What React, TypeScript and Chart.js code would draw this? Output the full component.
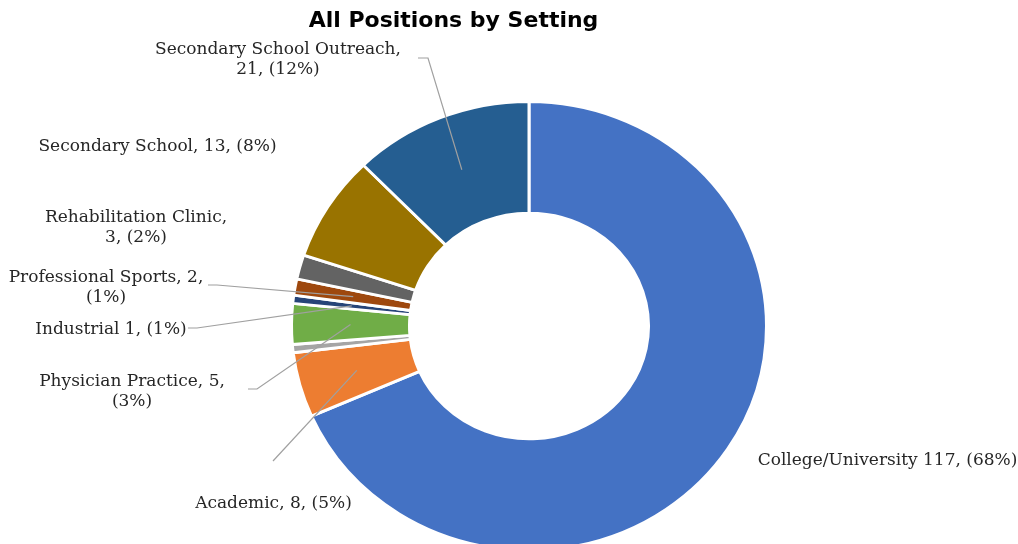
import React, { useEffect, useRef } from 'react';
import { Chart, registerables } from 'chart.js';

Chart.register(...registerables);

// ---- Data ----
const categories = [
  'College/University',
  'Academic',
  'Other',
  'Physician Practice',
  'Industrial',
  'Professional Sports',
  'Rehabilitation Clinic',
  'Secondary School',
  'Secondary School Outreach',
];
const values = [117, 8, 1, 5, 1, 2, 3, 13, 21];
const colors = ['#4472C4', '#ED7D31', '#A5A5A5', '#70AD47', '#264478', '#9E480E', '#636363', '#997300', '#255E91'];
const labelTexts: (string[] | null)[] = [
  ['College/University 117, (68%)'],
  ['Academic, 8, (5%)'],
  null,
  ['Physician Practice, 5,', '(3%)'],
  ['Industrial 1, (1%)'],
  ['Professional Sports, 2,', '(1%)'],
  ['Rehabilitation Clinic,', '3, (2%)'],
  ['Secondary School, 13, (8%)'],
  ['Secondary School Outreach,', '21, (12%)'],
];
const title = 'All Positions by Setting';

// ---- Layout (positions only) ----
const W = 1018;
const H = 600;
const K = 0.945; // vertical squash of the doughnut
const labelLayout: ({ x: number; y: number; lead?: number[][] } | null)[] = [
  { x: 887.5, y: 465 },
  { x: 273.5, y: 508, lead: [[273, 461]] },
  null,
  { x: 132, y: 386, lead: [[248, 389], [257, 389]] },
  { x: 111, y: 334, lead: [[188, 328], [197, 328]] },
  { x: 106, y: 282, lead: [[208, 285], [217, 285]] },
  { x: 136, y: 222 },
  { x: 157.5, y: 151 },
  { x: 278, y: 54, lead: [[418, 58], [428, 58]] },
];
const LABEL_FONT = '17px "DejaVu Serif"';
const LINE_H = 19.5;

const ellipsePlugin = {
  id: 'ellipse',
  beforeDatasetsDraw(chart: any) {
    const arc = chart.getDatasetMeta(0).data[0];
    const ctx = chart.ctx;
    ctx.save();
    ctx.translate(arc.x, arc.y);
    ctx.scale(1, K);
    ctx.translate(-arc.x, -arc.y);
  },
  afterDatasetsDraw(chart: any) {
    chart.ctx.restore();
  },
};

const labelsPlugin = {
  id: 'labelsAndTitle',
  afterDraw(chart: any) {
    const ctx = chart.ctx;
    const arcs = chart.getDatasetMeta(0).data;
    ctx.save();
    // title
    ctx.fillStyle = '#000000';
    ctx.font = 'bold 22px "DejaVu Sans"';
    ctx.textAlign = 'center';
    ctx.textBaseline = 'alphabetic';
    ctx.fillText(title, 453.5, 27);

    // leader lines
    ctx.strokeStyle = '#A0A0A0';
    ctx.lineWidth = 1.2;
    labelLayout.forEach((lay, i) => {
      if (!lay || !lay.lead) return;
      const arc = arcs[i];
      const p = arc.getCenterPoint();
      const tx = p.x;
      const ty = arc.y + (p.y - arc.y) * K;
      ctx.beginPath();
      ctx.moveTo(lay.lead[0][0], lay.lead[0][1]);
      for (let j = 1; j < lay.lead.length; j++) ctx.lineTo(lay.lead[j][0], lay.lead[j][1]);
      ctx.lineTo(tx, ty);
      ctx.stroke();
    });

    // label text
    ctx.fillStyle = '#262626';
    ctx.font = LABEL_FONT;
    ctx.textAlign = 'center';
    labelTexts.forEach((lines, i) => {
      const lay = labelLayout[i];
      if (!lines || !lay) return;
      lines.forEach((t, j) => ctx.fillText(t, lay.x, lay.y + j * LINE_H));
    });
    ctx.restore();
  },
};

export default function App() {
  const ref = useRef<HTMLCanvasElement>(null);
  useEffect(() => {
    if (!ref.current) return;
    const chart = new Chart(ref.current, {
      type: 'doughnut',
      data: {
        labels: categories,
        datasets: [
          {
            data: values,
            backgroundColor: colors,
            borderColor: '#ffffff',
            borderWidth: 3,
            hoverOffset: 0,
            clip: false as any,
          },
        ],
      },
      options: {
        animation: false,
        responsive: false,
        devicePixelRatio: 1,
        radius: 237.5,
        cutout: 118,
        layout: { padding: { left: 293, right: 253, top: 90, bottom: 38 } },
        plugins: { legend: { display: false }, tooltip: { enabled: false }, title: { display: false } },
        events: [],
      } as any,
      plugins: [ellipsePlugin, labelsPlugin],
    });
    return () => chart.destroy();
  }, []);
  return (
    <div style={{ position: 'absolute', left: 0, top: 0, width: W, height: 544, overflow: 'hidden', background: '#fff' }}>
      <canvas ref={ref} width={W} height={H} style={{ width: W, height: H, display: 'block' }} />
    </div>
  );
}
